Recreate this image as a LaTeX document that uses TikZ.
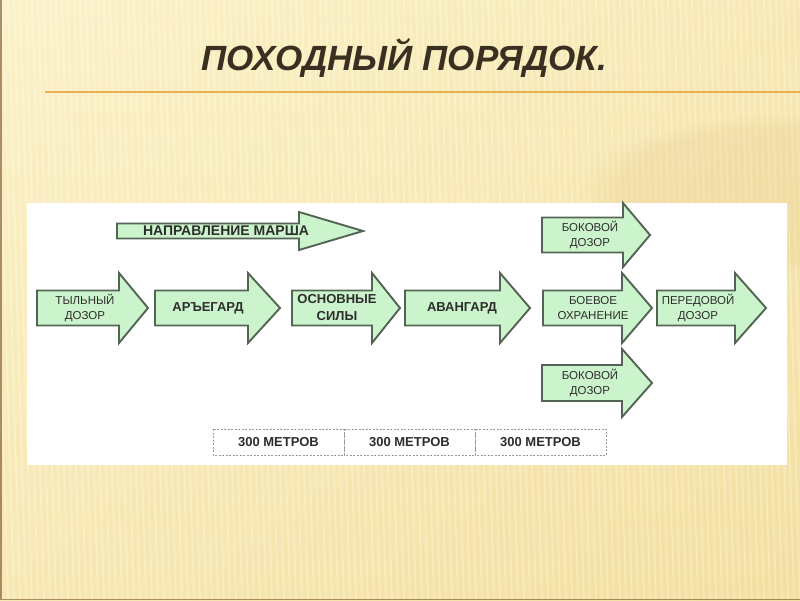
\documentclass[tikz,border=0pt]{standalone}
\usepackage{fontspec}
\setmainfont{Liberation Sans}
\usetikzlibrary{calc,fadings}
\definecolor{bgA}{RGB}{252,242,200}
\definecolor{bgB}{RGB}{243,223,160}
\definecolor{arrfill}{RGB}{204,244,204}
\definecolor{arrline}{RGB}{84,100,84}
\definecolor{titlecol}{RGB}{58,48,34}
\definecolor{rulecol}{RGB}{232,176,80}
\definecolor{txtcol}{RGB}{45,45,45}
\tikzset{
  arr/.style={fill=arrfill, draw=arrline, line width=1.9pt, line join=miter},
  lbl/.style={text=txtcol, align=center, inner sep=0pt, font=\fontsize{11.5}{15.5}\selectfont},
  blbl/.style={lbl, font=\bfseries\fontsize{13}{17}\selectfont},
  cell/.style={draw=gray!80, dashed, dash pattern=on 2pt off 1.5pt, line width=0.7pt},
  celltxt/.style={text=txtcol, inner sep=0pt, font=\bfseries\fontsize{13}{15}\selectfont},
}
% name, x0, xhead, xtip, ycenter, body half, head half, text x ; then [style]{text};
\newcommand\mkarrow[8]{%
  \draw[arr] (#2,#5-#6) -- (#3,#5-#6) -- (#3,#5-#7) -- (#4,#5) -- (#3,#5+#7) -- (#3,#5+#6) -- (#2,#5+#6) -- cycle;
  \node (#1) at (#8,#5)
}
\begin{document}
\begin{tikzpicture}[x=1pt,y=-1pt]
\useasboundingbox (0,0) rectangle (800,600);
% background
\shade[left color=bgA, right color=bgB] (0,0) rectangle (800,600);
\shade[top color=bgA, bottom color=bgB, opacity=0.5] (0,0) rectangle (800,600);
\foreach \i in {-40,-34,...,820} {
  \draw[white, opacity=0.3, line width=1.6pt] (\i,0) -- (\i+18,600);
}
\fill[bgB!80!brown, opacity=0.3, path fading=circle with fuzzy edge 20 percent] (770,195) ellipse (190 and 80);
\draw[brown!60!black, opacity=0.6, line width=1.5pt] (0.75,0) -- (0.75,599.25) -- (800,599.25);
% title
\node[text=titlecol, font=\bfseries\itshape\fontsize{35}{40}\selectfont] (title) at (404,58) {ПОХОДНЫЙ ПОРЯДОК.};
\draw[rulecol, line width=1.6pt] (45,92) coordinate (ruleL) -- (800,92) coordinate (ruleR);
% panel
\fill[white] (27,203) rectangle (787,465);
% arrows
\mkarrow{march}{117}{299}{363}{231}{7.5}{19}{226} [blbl, font=\bfseries\fontsize{14}{17}\selectfont] {НАПРАВЛЕНИЕ МАРША};
\mkarrow{rear}{37}{119}{148}{308}{17.5}{35}{85} [lbl] {ТЫЛЬНЫЙ\\ДОЗОР};
\mkarrow{rearguard}{155}{248}{280}{308}{17.5}{35}{208} [blbl] {АРЪЕГАРД};
\mkarrow{main}{292}{372}{400}{308}{17.5}{35}{337} [blbl] {ОСНОВНЫЕ\\СИЛЫ};
\mkarrow{vanguard}{405}{500}{530}{308}{17.5}{35}{462} [blbl] {АВАНГАРД};
\mkarrow{guard}{543}{622}{652}{308}{17.5}{35}{593} [lbl] {БОЕВОЕ\\ОХРАНЕНИЕ};
\mkarrow{front}{657}{735}{766}{308}{17.5}{35}{698} [lbl] {ПЕРЕДОВОЙ\\ДОЗОР};
\mkarrow{sideA}{542}{623}{650}{235}{17.5}{32}{590} [lbl] {БОКОВОЙ\\ДОЗОР};
\mkarrow{sideB}{542}{622}{652}{383}{18}{34}{590} [lbl] {БОКОВОЙ\\ДОЗОР};
% distances
\draw[cell] (213,429) rectangle (344,455);
\draw[cell] (344,429) rectangle (475,455);
\draw[cell] (475,429) rectangle (606,455);
\node[celltxt] (m1) at (278.5,442) {300 МЕТРОВ};
\node[celltxt] (m2) at (409.5,442) {300 МЕТРОВ};
\node[celltxt] (m3) at (540.5,442) {300 МЕТРОВ};
\end{tikzpicture}
\end{document}
